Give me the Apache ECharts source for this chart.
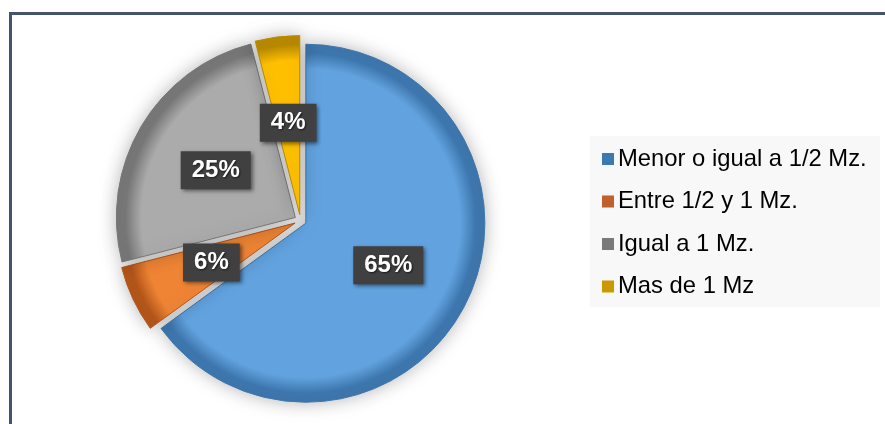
<!DOCTYPE html>
<html>
<head>
<meta charset="utf-8">
<script src="https://cdn.jsdelivr.net/npm/echarts@6/dist/echarts.min.js"></script>
<style>
html,body{margin:0;padding:0;background:#fff;}
#chart{width:885px;height:424px;}
</style>
</head>
<body>
<div id="chart"></div>
<script>
var categories = ['Menor o igual a 1/2 Mz.', 'Entre 1/2 y 1 Mz.', 'Igual a 1 Mz.', 'Mas de 1 Mz'];
var values = [65, 6, 25, 4];
var baseColors = ['#62A3DF', '#EE8434', '#ABABAB', '#FFC000'];
var edgeColors = ['#3E77AE', '#B4561A', '#777777', '#B88A00'];
var iconColors = ['#3C78B4', '#C0602A', '#7A7A7A', '#C89A00'];

var CX = 300.5, CY = 220.5, R = 179;

function fillFor(i) {
  return {
    type: 'radial', x: CX, y: CY, r: R, global: true,
    colorStops: [
      {offset: 0, color: baseColors[i]},
      {offset: 0.86, color: baseColors[i]},
      {offset: 0.95, color: edgeColors[i]},
      {offset: 1, color: edgeColors[i]}
    ]
  };
}

var data = categories.map(function (c, i) {
  return {
    name: c,
    value: values[i],
    selected: true,
    itemStyle: {color: fillFor(i), borderColor: edgeColors[i], borderWidth: 1}
  };
});

var chart = echarts.init(document.getElementById('chart'), null, {renderer: 'canvas'});
chart.setOption({
  animation: false,
  backgroundColor: '#ffffff',
  graphic: [
    {type: 'rect', shape: {x: 10.5, y: 13.5, width: 1000, height: 1000}, style: {fill: 'none', stroke: '#44546A', lineWidth: 3}, z: 0},
    {type: 'rect', shape: {x: 590, y: 136, width: 290, height: 171}, style: {fill: '#F8F8F8'}, z: 0}
  ],
  legend: {
    orient: 'vertical',
    left: 597,
    top: 142,
    itemWidth: 12,
    itemHeight: 12,
    itemGap: 18.5,
    icon: 'rect',
    selectedMode: false,
    textStyle: {fontFamily: 'Liberation Sans, Arial, sans-serif', fontSize: 23.8, lineHeight: 22, color: '#000', padding: [0, 0, 0, -1]},
    data: categories.map(function (c, i) {
      return {name: c, itemStyle: {color: iconColors[i], borderWidth: 0}};
    })
  },
  series: [{
    type: 'pie',
    center: [CX, CY],
    radius: R,
    startAngle: 90,
    clockwise: true,
    selectedMode: 'multiple',
    selectedOffset: 6,
    avoidLabelOverlap: false,
    itemStyle: {shadowBlur: 18, shadowColor: 'rgba(0,0,0,0.28)'},
    label: {
      show: true,
      position: 'inside',
      formatter: function (p) { return Math.round(p.percent) + '%'; },
      color: '#fff',
      fontFamily: 'Liberation Sans, Arial, sans-serif',
      fontWeight: 'bold',
      fontSize: 24,
      backgroundColor: '#404040',
      padding: [7, 11, 7, 11],
      shadowBlur: 4,
      shadowColor: 'rgba(0,0,0,0.5)',
      shadowOffsetX: 2,
      shadowOffsetY: 2,
      textShadowBlur: 2,
      textShadowColor: 'rgba(0,0,0,0.6)',
      textShadowOffsetX: 1,
      textShadowOffsetY: 1
    },
    labelLine: {show: false},
    emphasis: {disabled: true},
    data: data
  }]
});
</script>
</body>
</html>
